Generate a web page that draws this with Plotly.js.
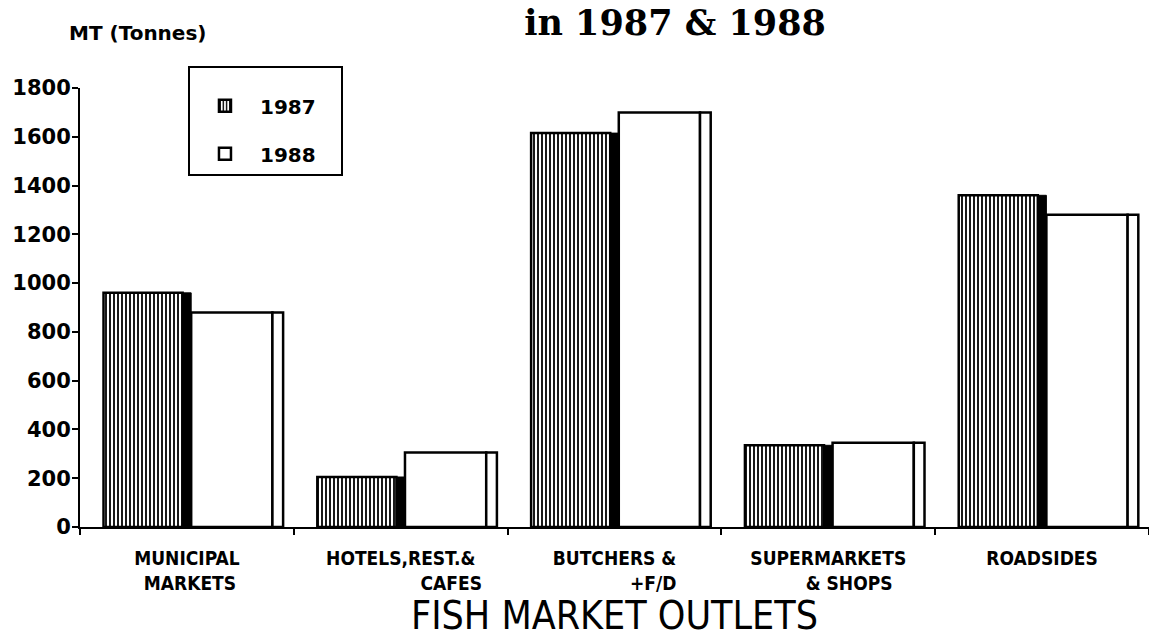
<!DOCTYPE html>
<html><head><meta charset="utf-8">
<script src="https://cdn.plot.ly/plotly-3.0.1.min.js"></script>
<style>html,body{margin:0;padding:0;background:#fff}</style>
</head><body>
<div id="chart" style="width:1149px;height:638px"></div>
<script>
// ---- data ----
const labelLine1 = ["MUNICIPAL", "HOTELS,REST.&", "BUTCHERS &", "SUPERMARKETS", "ROADSIDES"];
const labelLine2 = ["MARKETS", "CAFES", "+F/D", "& SHOPS", ""];
const categories = ["Municipal markets", "Hotels, rest. & cafes", "Butchers & F/D", "Supermarkets & shops", "Roadsides"];
const values1987 = [960, 205, 1615, 335, 1360];
const values1988 = [880, 305, 1700, 345, 1280];
const seriesNames = ["1987", "1988"];
const yTickValues = [0, 200, 400, 600, 800, 1000, 1200, 1400, 1600, 1800];

// ---- style ----
const line2Indent = [1, 17, 13, 7, 0];
const NB = "\u00A0";
const tickText = labelLine1.map((l1, i) =>
  labelLine2[i] ? l1 + "<br>" + NB.repeat(line2Indent[i]) + labelLine2[i] : l1);

const black = "#000";
const traces = [
  { // 1987 front face
    type: "bar", name: seriesNames[0], x: categories, y: values1987,
    offset: -0.39, width: 0.37, legendgroup: "a",
    marker: { color: "#fff", line: { color: black, width: 2.5 },
      pattern: { shape: "|", fgcolor: black, bgcolor: "#fff", size: 4, solidity: 0.45 } },
    hoverinfo: "x+y"
  },
  { // 1987 dark side
    type: "bar", name: seriesNames[0], x: categories, y: values1987,
    offset: -0.02, width: 0.04, showlegend: false,
    marker: { color: black, line: { color: black, width: 1 } }, hoverinfo: "skip"
  },
  { // 1988 front face
    type: "bar", name: seriesNames[1], x: categories, y: values1988,
    offset: 0.02, width: 0.38, legendgroup: "b",
    marker: { color: "#fff", line: { color: black, width: 2.5 } },
    hoverinfo: "x+y"
  },
  { // 1988 side
    type: "bar", name: seriesNames[1], x: categories, y: values1988,
    offset: 0.40, width: 0.05, showlegend: false,
    marker: { color: "#fff", line: { color: black, width: 2.5 } }, hoverinfo: "skip"
  }
];

const layout = {
  width: 1149, height: 638,
  margin: { l: 80, r: 0, t: 88, b: 111 },
  paper_bgcolor: "#fff", plot_bgcolor: "#fff",
  title: { text: "in 1987 & 1988",
    font: { family: "DejaVu Serif", size: 35, color: black, weight: "bold" },
    x: 0.5875, xanchor: "center", xref: "container",
    y: 0.965, yanchor: "middle", yref: "container" },
  barmode: "overlay",
  showlegend: true,
  legend: { x: 0.101, y: 1.05, xanchor: "left", yanchor: "top",
    bordercolor: black, borderwidth: 2, bgcolor: "#fff",
    itemwidth: 60,
    title: { text: NB.repeat(30), font: { size: 14 } },
    font: { family: "DejaVu Sans", size: 20, color: black, weight: "bold" },
    traceorder: "grouped", tracegroupgap: 19 },
  xaxis: {
    type: "category", range: [-0.5, 4.5],
    tickmode: "array", tickvals: categories, ticktext: tickText,
    tickson: "boundaries", ticks: "outside", ticklen: 6, tickwidth: 2, tickcolor: black,
    showline: true, linecolor: black, linewidth: 2, showgrid: false, zeroline: false,
    tickfont: { family: "DejaVu Sans Condensed", size: 19, color: black, weight: "bold" },
    ticklabelstandoff: 13,
    title: { text: "FISH MARKET OUTLETS", standoff: 30,
      font: { family: "DejaVu Sans Condensed, sans-serif", size: 39, color: black } }
  },
  yaxis: {
    range: [0, 1800], tickmode: "array", tickvals: yTickValues,
    ticks: "outside", ticklen: 6, tickwidth: 2, tickcolor: black,
    showline: true, linecolor: black, linewidth: 2, showgrid: false, zeroline: false,
    ticklabelstandoff: -3,
    tickfont: { family: "DejaVu Sans", size: 21, color: black, weight: "bold" }
  },
  annotations: [{
    text: "MT (Tonnes)", xref: "paper", yref: "paper", x: -0.012, y: 1.125,
    xanchor: "left", yanchor: "middle", showarrow: false,
    font: { family: "DejaVu Sans", size: 20, color: black, weight: "bold" }
  }]
};

Plotly.newPlot("chart", traces, layout, { displayModeBar: false, staticPlot: true });
</script>
</body></html>
